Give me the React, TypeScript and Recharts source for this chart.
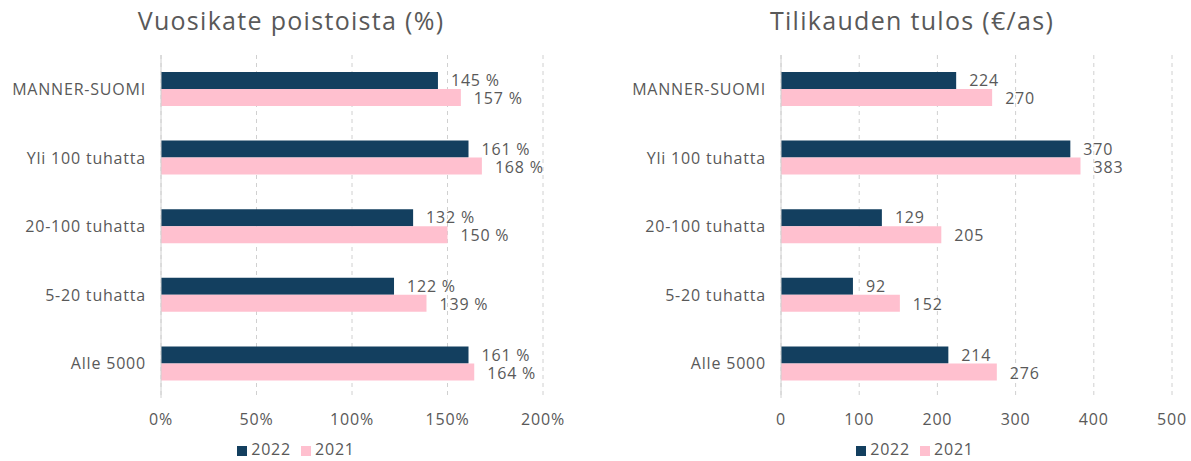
import { BarChart, Bar, XAxis, YAxis, CartesianGrid, LabelList, Legend } from 'recharts';

const categories = ['MANNER-SUOMI', 'Yli 100 tuhatta', '20-100 tuhatta', '5-20 tuhatta', 'Alle 5000'];
const seriesNames = ['2022', '2021'];
const vuosikate2022 = [145, 161, 132, 122, 161];
const vuosikate2021 = [157, 168, 150, 139, 164];
const tulos2022 = [224, 370, 129, 92, 214];
const tulos2021 = [270, 383, 205, 152, 276];
const percentTicks = [0, 50, 100, 150, 200];
const euroTicks = [0, 100, 200, 300, 400, 500];

const DARK = '#133f5f';
const PINK = '#ffc0cf';
const TEXT = '#595959';
const FONT = '"Open Sans", sans-serif';
const tickStyle = { fill: TEXT, fontSize: 16, fontFamily: FONT, letterSpacing: 0.8 };

const vuosikateData = categories.map((name, i) => ({ name, y2022: vuosikate2022[i], y2021: vuosikate2021[i] }));
const tulosData = categories.map((name, i) => ({ name, y2022: tulos2022[i], y2021: tulos2021[i] }));

interface PanelProps {
  title: string;
  titleCenter: number;
  data: Array<{ name: string; y2022: number; y2021: number }>;
  ticks: number[];
  suffix: string;
  labelSuffix: string;
  width: number;
  marginRight: number;
  left: number;
  legendLeft: number;
  legendWidth: number;
}

function Panel({ title, titleCenter, data, ticks, suffix, labelSuffix, width, marginRight, left, legendLeft, legendWidth }: PanelProps) {
  return (
    <div style={{ position: 'absolute', left, top: 0, width, height: 461 }}>
      <div
        style={{
          position: 'absolute',
          top: 3,
          left: titleCenter - 250,
          width: 500,
          textAlign: 'center',
          fontFamily: FONT,
          fontSize: 25,
          letterSpacing: 1.3,
          color: TEXT,
        }}
      >
        {title}
      </div>
      <BarChart
        width={width}
        height={461}
        data={data}
        layout="vertical"
        margin={{ top: 55, right: marginRight, bottom: 33, left: 0 }}
        barGap={0}
        barSize={17}
      >
        <CartesianGrid horizontal={false} stroke="#d0d0d0" strokeDasharray="4 4" />
        <XAxis
          type="number"
          domain={[ticks[0], ticks[ticks.length - 1]]}
          ticks={ticks}
          tickFormatter={(v) => `${v}${suffix}`}
          axisLine={false}
          tickLine={false}
          tickMargin={10}
          tick={tickStyle}
        />
        <YAxis
          type="category"
          dataKey="name"
          width={161}
          axisLine={{ stroke: '#d0d0d0' }}
          tickLine={false}
          tickMargin={9}
          tick={tickStyle}
        />
        <Legend
          verticalAlign="middle"
          align="center"
          layout="horizontal"
          iconType="square"
          iconSize={10}
          itemSorter={(item: any) => seriesNames.indexOf(String(item.value))}
          wrapperStyle={{ top: 439, left: legendLeft, width: legendWidth, fontFamily: FONT, fontSize: 16, letterSpacing: 0.8, lineHeight: '20px' }}
          formatter={(value) => <span style={{ color: TEXT }}>{value}</span>}
        />
        <Bar dataKey="y2022" name={seriesNames[0]} fill={DARK} isAnimationActive={false}>
          <LabelList
            dataKey="y2022"
            position="right"
            offset={13}
            formatter={(v) => `${v}${labelSuffix}`}
            style={tickStyle}
          />
        </Bar>
        <Bar dataKey="y2021" name={seriesNames[1]} fill={PINK} isAnimationActive={false}>
          <LabelList
            dataKey="y2021"
            position="right"
            offset={13}
            dy={1}
            formatter={(v) => `${v}${labelSuffix}`}
            style={tickStyle}
          />
        </Bar>
      </BarChart>
    </div>
  );
}

export default function App() {
  return (
    <div style={{ position: 'absolute', left: 0, top: 0, width: 1191, height: 461, background: '#fff', overflow: 'hidden' }}>
      <Panel
        title="Vuosikate poistoista (%)"
        titleCenter={291}
        data={vuosikateData}
        ticks={percentTicks}
        suffix="%"
        labelSuffix=" %"
        width={600}
        marginRight={57}
        left={0}
        legendLeft={12}
        legendWidth={578}
      />
      <Panel
        title="Tilikauden tulos (€/as)"
        titleCenter={292}
        data={tulosData}
        ticks={euroTicks}
        suffix=""
        labelSuffix=""
        width={571}
        marginRight={19}
        left={620}
        legendLeft={12}
        legendWidth={576}
      />
    </div>
  );
}
